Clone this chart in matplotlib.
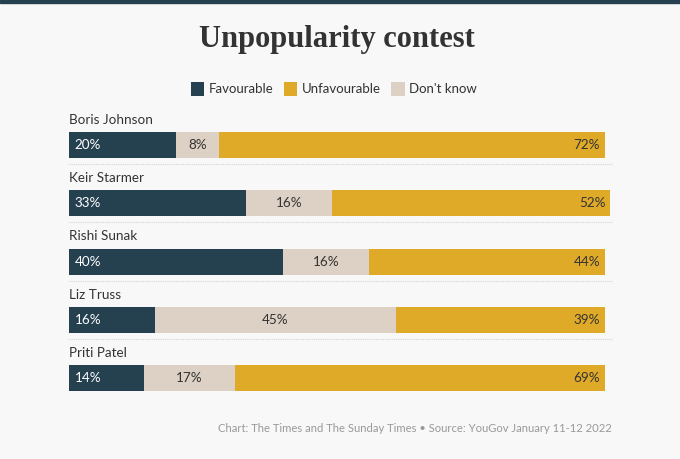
import numpy as np
import matplotlib
matplotlib.use("Agg")
import matplotlib.pyplot as plt
from matplotlib.patches import Patch

names = ["Boris Johnson", "Keir Starmer", "Rishi Sunak", "Liz Truss", "Priti Patel"]
favourable = [20, 33, 40, 16, 14]
dont_know = [8, 16, 16, 45, 17]
unfavourable = [72, 52, 44, 39, 69]

NAVY = "#25404f"
GOLD = "#e0aa29"
BEIGE = "#dcd1c4"
BG = "#f8f8f8"
TXT = "#333333"
FONT = "Lato"

W, H = 680, 459
fig = plt.figure(figsize=(W / 100, H / 100), dpi=100, facecolor=BG)

# dark strip at the very top
fig.patches.append(plt.Rectangle((0, 1 - 3 / H), 1, 3 / H, transform=fig.transFigure,
                                 color=NAVY, zorder=0))

fig.text(337 / W, 1 - 40 / H, "Unpopularity contest", ha="center", va="center",
         family="Liberation Serif", fontweight="bold", fontsize=22, color=TXT)

handles = [Patch(facecolor=NAVY, label="Favourable"),
           Patch(facecolor=GOLD, label="Unfavourable"),
           Patch(facecolor=BEIGE, label="Don't know")]
fig.legend(handles=handles, loc="center", bbox_to_anchor=(334 / W, 1 - 89 / H), ncol=3,
           frameon=False, handlelength=1.0, handleheight=1.2, handletextpad=0.35,
           columnspacing=0.8, prop={"family": FONT, "size": 9.5}, labelcolor=TXT)

# axes: x 0..100 spans px 69..605; row i centred at px 145 + 58.25*i
top_px, bot_px = 100, 410
step, y0 = 58.25, 145
ax = fig.add_axes([69 / W, 1 - bot_px / H, (605 - 69) / W, (bot_px - top_px) / H])
ax.set_facecolor(BG)
ax.set_xlim(0, 100)
ax.set_ylim((bot_px - y0) / step, (top_px - y0) / step)
ax.axis("off")

bh = 26 / step
y = np.arange(len(names))
fav = np.array(favourable)
dk = np.array(dont_know)
unf = np.array(unfavourable)
for bars in (ax.barh(y, fav, height=bh, color=NAVY),
             ax.barh(y, dk, left=fav, height=bh, color=BEIGE),
             ax.barh(y, unf, left=fav + dk, height=bh, color=GOLD)):
    for b in bars:
        b.set_clip_on(False)

for i in range(len(names)):
    ax.text(0, i - 25 / step, names[i], ha="left", va="center", family=FONT,
            fontsize=9.7, color=TXT)
    ax.text(1.1, i, f"{fav[i]}%", ha="left", va="center", family=FONT,
            fontsize=9.7, color="white")
    ax.text(fav[i] + dk[i] / 2, i, f"{dk[i]}%", ha="center", va="center", family=FONT,
            fontsize=9.7, color=TXT)
    ax.text(fav[i] + dk[i] + unf[i] - 0.9, i, f"{unf[i]}%", ha="right", va="center",
            family=FONT, fontsize=9.7, color=TXT, clip_on=False)
    if i < len(names) - 1:
        ax.plot([0, 101.3], [i + 19 / step] * 2, color="#d4d4d4", lw=0.8,
                ls=(0, (1, 1)), clip_on=False)

fig.text(612 / W, 1 - 428 / H,
         "Chart: The Times and The Sunday Times \u2022 Source: YouGov January 11-12 2022",
         ha="right", va="center", family=FONT, fontsize=8.1, color="#999999")

fig.savefig("out.png", dpi=100, facecolor=BG)
